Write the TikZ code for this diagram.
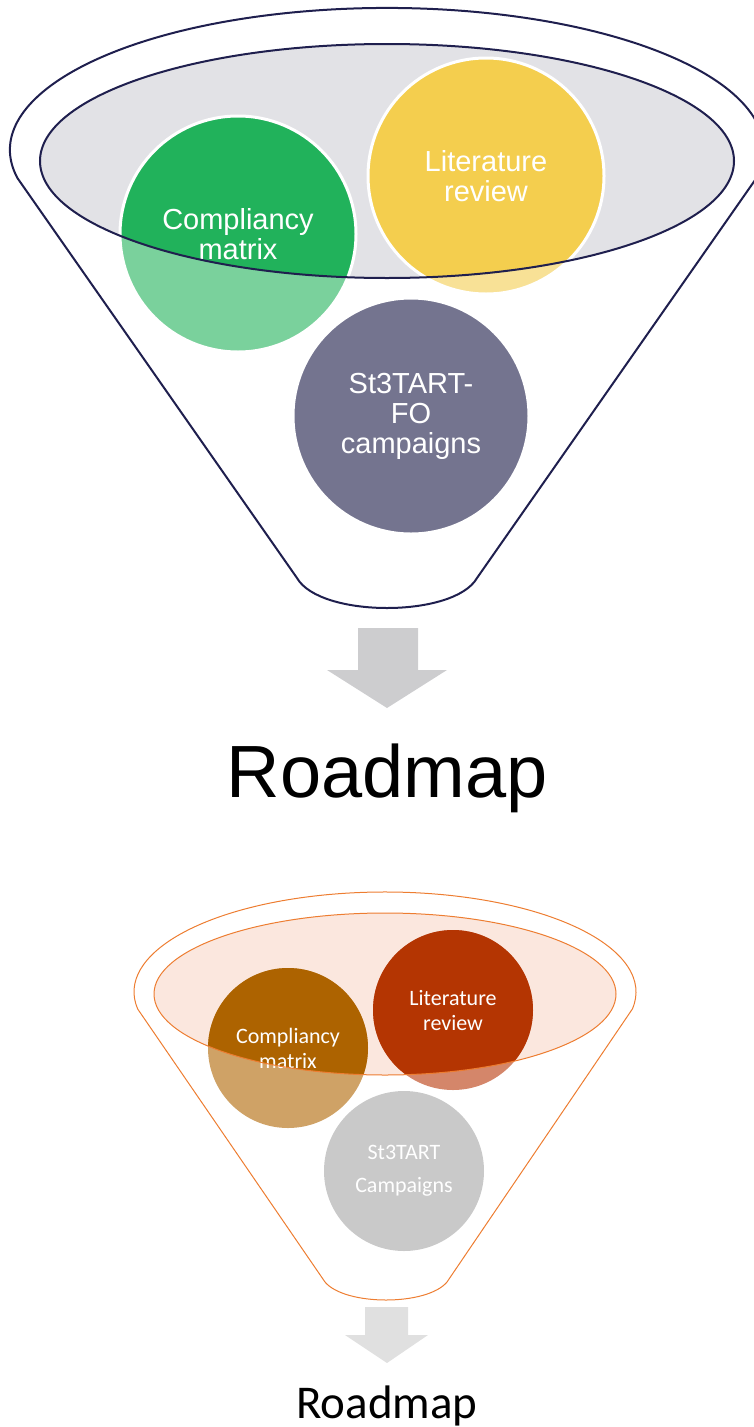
\documentclass[tikz,border=0pt]{standalone}
\usepackage{fontspec}
\setmainfont{Liberation Sans}
\newfontfamily\calibfont{Carlito}
\definecolor{navy}{HTML}{1F1F4E}
\definecolor{mouthgrey}{HTML}{E2E2E6}
\definecolor{greenfull}{HTML}{21B25B}
\definecolor{greenlt}{HTML}{7AD19C}
\definecolor{yellowfull}{HTML}{F4CE4E}
\definecolor{yellowlt}{HTML}{F8E196}
\definecolor{purple}{HTML}{74748F}
\definecolor{arrowgrey}{HTML}{CDCDCF}
\definecolor{rimorange}{HTML}{ED7D31}
\definecolor{mouthpink}{HTML}{FBE7DE}
\definecolor{brownfull}{HTML}{AD6300}
\definecolor{brownlt}{HTML}{CFA266}
\definecolor{redfull}{HTML}{B43502}
\definecolor{redlt}{HTML}{D4866A}
\definecolor{ballgrey}{HTML}{C9C9C9}
\definecolor{arrowlight}{HTML}{E0E0E0}
\begin{document}
\begin{tikzpicture}[x=1pt,y=-1pt,
  topball/.style={circle, minimum size=236, inner sep=0pt, draw=white, line width=3pt,
    text=white, align=center, font=\fontsize{29}{30}\selectfont},
  lowball/.style={circle, minimum size=160, inner sep=0pt,
    text=white, align=center, font=\calibfont\fontsize{22}{25}\selectfont},
  topclip/.style={path picture={\fill[#1] (topmouth) ellipse [x radius=347, y radius=117];}},
  lowclip/.style={path picture={\fill[#1] (lowmouth) ellipse [x radius=231, y radius=81];}}]
  \useasboundingbox (0,0) rectangle (753,1427);
  \coordinate (topmouth) at (387,161);
  \coordinate (lowmouth) at (385,994);

  % upper funnel
  \draw[navy, line width=2pt] (17.4,178) arc[start angle=168.6, end angle=371.4, x radius=377, y radius=142]
    -- (477,578) .. controls (454,618) and (320,618) .. (297,578) -- cycle;
  \fill[mouthgrey] (topmouth) ellipse [x radius=347, y radius=117];
  \node[topball, fill=greenlt, topclip=greenfull] (compliancy) at (238,234) {Compliancy\\matrix};
  \node[topball, fill=yellowlt, topclip=yellowfull] (literature) at (486,176) {Literature\\review};
  \node[topball, fill=purple] (campaigns) at (411,416) {St3TART-\\FO\\campaigns};
  \draw[navy, line width=2pt] (topmouth) ellipse [x radius=347, y radius=117];
  \fill[arrowgrey] (358,628) -- (418,628) -- (418,670) -- (447,670) -- (387,708) -- (327,670) -- (358,670) -- cycle;
  \node[anchor=base, font=\fontsize{74}{80}\selectfont] (roadmap) at (387,797) {Roadmap};

  % lower funnel
  \draw[rimorange, line width=1pt] (137.7,1009) arc[start angle=170.2, end angle=369.8, x radius=251, y radius=100]
    -- (447,1282) .. controls (427,1306) and (345,1306) .. (325,1282) -- cycle;
  \fill[mouthpink] (lowmouth) ellipse [x radius=231, y radius=81];
  \node[lowball, fill=brownlt, lowclip=brownfull] (lowcompliancy) at (288,1048) {Compliancy\\matrix};
  \node[lowball, fill=redlt, lowclip=redfull] (lowliterature) at (453,1010) {Literature\\review};
  \node[lowball, fill=ballgrey, font=\calibfont\fontsize{22}{33}\selectfont] (lowcampaigns) at (404,1171) {St3TART\\Campaigns};
  \draw[rimorange, line width=1pt] (lowmouth) ellipse [x radius=231, y radius=81];
  \fill[arrowlight] (365,1307) -- (408,1307) -- (408,1335) -- (428,1335) -- (387,1363) -- (345,1335) -- (365,1335) -- cycle;
  \node[anchor=base, font=\calibfont\fontsize{47}{52}\selectfont] (lowroadmap) at (387,1418) {Roadmap};
\end{tikzpicture}
\end{document}
